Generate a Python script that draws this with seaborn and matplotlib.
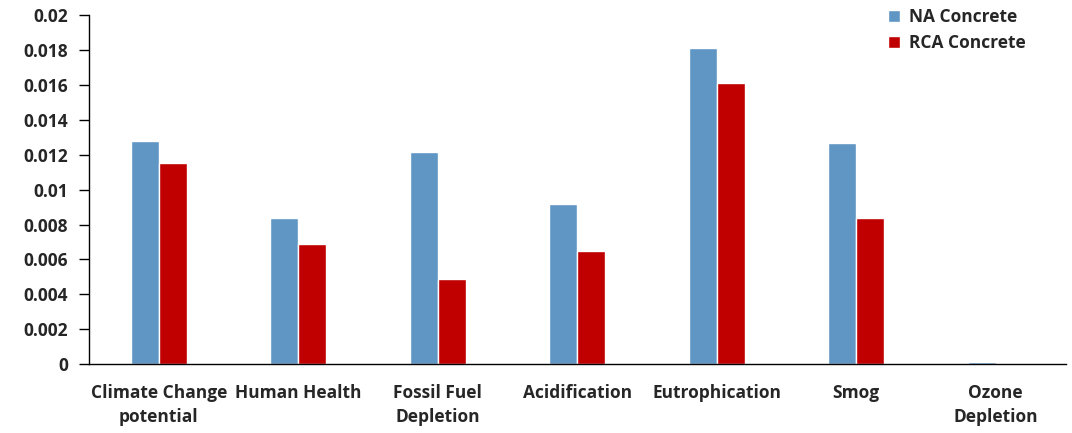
import pandas as pd
import numpy as np
import matplotlib.pyplot as plt
import seaborn as sns

# Datos
categorias = ['Climate Change\npotential', 'Human Health', 'Fossil Fuel\nDepletion',
              'Acidification', 'Eutrophication', 'Smog', 'Ozone\nDepletion']
na_concrete = [0.0128, 0.0084, 0.01215, 0.0092, 0.0181, 0.01265, 0.0001]
rca_concrete = [0.0115, 0.0069, 0.0049, 0.0065, 0.0161, 0.0084, 0.0]
series = ['NA Concrete', 'RCA Concrete']
colores = ['#6096C4', '#C00000']

df = pd.DataFrame({
    'Categoria': categorias * 2,
    'Valor': na_concrete + rca_concrete,
    'Serie': [series[0]] * len(categorias) + [series[1]] * len(categorias),
})

sns.set_style('white')
plt.rcParams['font.family'] = ['Open Sans', 'DejaVu Sans']

fig = plt.figure(figsize=(10.72, 4.33), dpi=100)
ax = fig.add_axes([0.083, 0.159, 0.911, 0.806])

sns.barplot(data=df, x='Categoria', y='Valor', hue='Serie', palette=colores,
            width=0.4, saturation=1, ax=ax)

ax.set_ylim(0, 0.02)
ax.set_yticks(np.arange(0, 0.0201, 0.002))
ax.set_yticklabels(['0', '0.002', '0.004', '0.006', '0.008', '0.01', '0.012',
                    '0.014', '0.016', '0.018', '0.02'], fontsize=12.5, fontweight='bold')
ax.set_xticks(range(len(categorias)))
ax.set_xticklabels(categorias, fontsize=12.5, fontweight='bold', linespacing=1.45)
ax.set_xlim(-0.5, len(categorias) - 0.5)
ax.set_xlabel('')
ax.set_ylabel('')

for lado in ['top', 'right']:
    ax.spines[lado].set_visible(False)
for lado in ['left', 'bottom']:
    ax.spines[lado].set_color('black')
    ax.spines[lado].set_linewidth(1)

ax.tick_params(axis='y', direction='out', length=7, width=1, color='black', left=True, pad=8)
ax.tick_params(axis='x', length=0, pad=14)

leg = ax.legend(loc='upper right', bbox_to_anchor=(0.975, 1.065), frameon=False,
                handlelength=0.7, handleheight=0.7, handletextpad=0.5,
                prop={'size': 12.5, 'weight': 'bold'}, labelspacing=0.45)

fig.savefig('out.png', dpi=100)
